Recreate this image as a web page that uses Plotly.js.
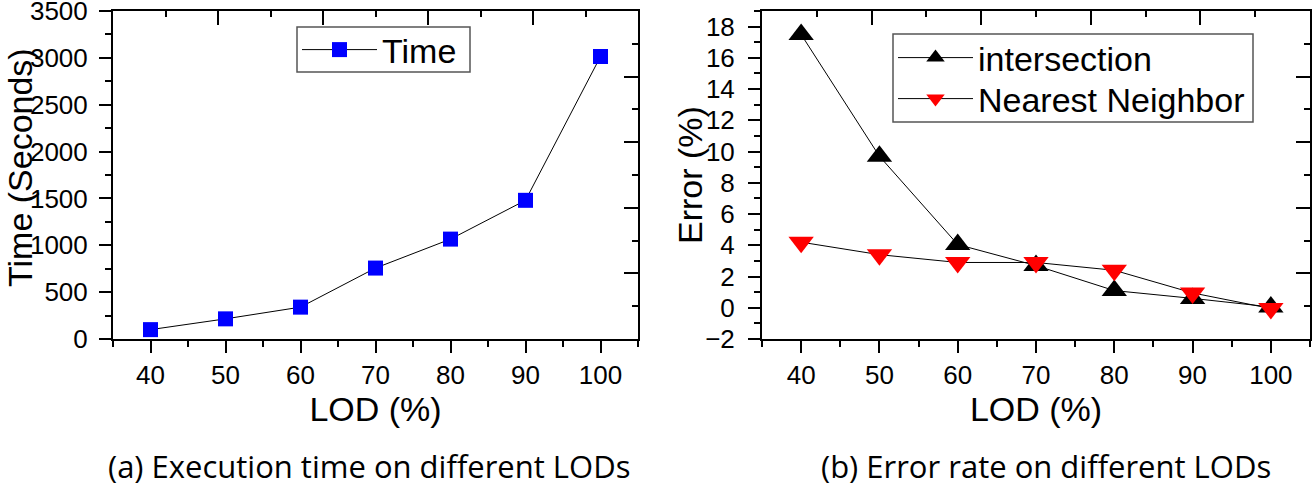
<!DOCTYPE html>
<html>
<head>
<meta charset="utf-8">
<script src="https://cdn.plot.ly/plotly-3.0.1.min.js"></script>
<style>html,body{margin:0;padding:0;background:#fff}#chart{width:1312px;height:488px}</style>
</head>
<body>
<div id="chart"></div>
<script>
// ---- data ----
const lod = [40, 50, 60, 70, 80, 90, 100];
const timeSeconds = [100, 215, 340, 757, 1066, 1480, 3015];
const errIntersection = [17.5, 9.7, 4.05, 2.7, 1.1, 0.6, 0.05];
const errNearest = [4.2, 3.4, 2.9, 2.9, 2.4, 0.95, -0.05];
const seriesNames = ['Time', 'intersection', 'Nearest Neighbor'];
const axisTitles = ['LOD (%)', 'Time (Seconds)', 'Error (%)'];
const captions = ['(a) Execution time on different LODs', '(b) Error rate on different LODs'];

const SANS = "'Liberation Sans', Arial, sans-serif";
const tickFont = {family: SANS, size: 26, color: '#000'};
const titleFont = {family: SANS, size: 34, color: '#000'};
const legendFont = {family: SANS, size: 34, color: '#000'};
const capFont = {family: "'Open Sans', 'Noto Sans', sans-serif", size: 31, color: '#000'};

const traces = [
  {x: lod, y: timeSeconds, name: seriesNames[0], type: 'scatter', mode: 'lines+markers',
   xaxis: 'x', yaxis: 'y', legend: 'legend',
   line: {color: '#000', width: 1}, marker: {symbol: 'square', size: 15, color: '#0000ff'}},
  {x: lod, y: errIntersection, name: seriesNames[1], type: 'scatter', mode: 'lines+markers',
   xaxis: 'x2', yaxis: 'y2', legend: 'legend2',
   line: {color: '#000', width: 1}, marker: {symbol: 'triangle-up', size: 22, color: '#000'}},
  {x: lod, y: errNearest, name: seriesNames[2], type: 'scatter', mode: 'lines+markers',
   xaxis: 'x2', yaxis: 'y2', legend: 'legend3',
   line: {color: '#000', width: 1}, marker: {symbol: 'triangle-down', size: 22, color: '#ff0000'}},
  // empty traces so the frame axes (top / right) get drawn
  {x: [], y: [], type: 'scatter', mode: 'markers', xaxis: 'x3', yaxis: 'y3', showlegend: false, hoverinfo: 'skip'},
  {x: [], y: [], type: 'scatter', mode: 'markers', xaxis: 'x4', yaxis: 'y4', showlegend: false, hoverinfo: 'skip'}
];

const baseAxis = {
  showline: true, linewidth: 2, linecolor: '#000', showgrid: false, zeroline: false,
  ticks: 'outside', ticklen: 12, tickwidth: 2, tickcolor: '#000', tickfont: tickFont,
  ticklabeloverflow: 'allow', fixedrange: true
};
const mirrorAxis = {
  showline: true, linewidth: 2, linecolor: '#000', showgrid: false, zeroline: false,
  showticklabels: false, ticks: 'inside', ticklen: 14, tickwidth: 2, tickcolor: '#000',
  range: [0, 10], tickmode: 'array', tickvals: [2, 4, 6, 8],
  minor: {tickmode: 'array', tickvals: [1, 3, 5, 7, 9], ticks: 'inside', ticklen: 6, tickwidth: 2, tickcolor: '#000'},
  fixedrange: true
};
const minorX = {tickmode: 'linear', tick0: 35, dtick: 5, ticks: 'outside', ticklen: 6, tickwidth: 2, tickcolor: '#000'};

const dL = [113 / 1312, 638 / 1312];
const dR = [762 / 1312, 1310 / 1312];
const dY = [(488 - 339) / 488, (488 - 11) / 488];
const px = v => v / 1312, py = v => (488 - v) / 488;

const legendBase = {xanchor: 'left', yanchor: 'middle', itemwidth: 75, bgcolor: 'rgba(0,0,0,0)',
  borderwidth: 0, font: legendFont, tracegroupgap: 0};

const layout = {
  width: 1312, height: 488,
  margin: {l: 0, r: 0, t: 0, b: 0},
  paper_bgcolor: '#fff', plot_bgcolor: '#fff',
  showlegend: true,
  xaxis: Object.assign({}, baseAxis, {domain: dL, anchor: 'y', range: [35, 105], tickmode: 'linear', tick0: 40, dtick: 10,
    minor: minorX, title: {text: axisTitles[0], font: titleFont, standoff: 4}}),
  yaxis: Object.assign({}, baseAxis, {domain: dY, anchor: 'x', range: [0, 3500.5], tickmode: 'linear', tick0: 0, dtick: 500,
    ticklabelstandoff: 6,
    minor: {tickmode: 'linear', tick0: 0, dtick: 250, ticks: 'outside', ticklen: 6, tickwidth: 2, tickcolor: '#000'}}),
  xaxis2: Object.assign({}, baseAxis, {domain: dR, anchor: 'y2', range: [35, 105], tickmode: 'linear', tick0: 40, dtick: 10,
    minor: minorX, title: {text: axisTitles[0], font: titleFont, standoff: 4}}),
  yaxis2: Object.assign({}, baseAxis, {domain: dY, anchor: 'x2', range: [-2, 19], tickmode: 'linear', tick0: -2, dtick: 2,
    ticklabelstandoff: 8,
    minor: {tickmode: 'linear', tick0: -2, dtick: 1, ticks: 'outside', ticklen: 6, tickwidth: 2, tickcolor: '#000'}}),
  xaxis3: Object.assign({}, mirrorAxis, {overlaying: 'x', side: 'top', anchor: 'y'}),
  yaxis3: Object.assign({}, mirrorAxis, {overlaying: 'y', side: 'right', anchor: 'x'}),
  xaxis4: Object.assign({}, mirrorAxis, {overlaying: 'x2', side: 'top', anchor: 'y2'}),
  yaxis4: Object.assign({}, mirrorAxis, {overlaying: 'y2', side: 'right', anchor: 'x2'}),
  legend: Object.assign({}, legendBase, {x: px(297), y: py(50)}),
  legend2: Object.assign({}, legendBase, {x: px(893), y: py(58)}),
  legend3: Object.assign({}, legendBase, {x: px(893), y: py(99)}),
  shapes: [
    {type: 'rect', xref: 'paper', yref: 'paper', x0: px(297), x1: px(470), y0: py(72), y1: py(27),
     line: {color: '#555', width: 1.5}, fillcolor: 'rgba(0,0,0,0)', layer: 'above'},
    {type: 'rect', xref: 'paper', yref: 'paper', x0: px(893), x1: px(1253), y0: py(122), y1: py(34),
     line: {color: '#555', width: 1.5}, fillcolor: 'rgba(0,0,0,0)', layer: 'above'}
  ],
  annotations: [
    {text: axisTitles[1], xref: 'paper', yref: 'paper', x: px(20), y: py(168), textangle: -90,
     xanchor: 'center', yanchor: 'middle', showarrow: false, font: titleFont},
    {text: axisTitles[2], xref: 'paper', yref: 'paper', x: px(690), y: py(175), textangle: -90,
     xanchor: 'center', yanchor: 'middle', showarrow: false, font: titleFont},
    {text: captions[0], xref: 'paper', yref: 'paper', x: px(369), y: py(466),
     xanchor: 'center', yanchor: 'middle', showarrow: false, font: capFont},
    {text: captions[1], xref: 'paper', yref: 'paper', x: px(1046), y: py(466),
     xanchor: 'center', yanchor: 'middle', showarrow: false, font: capFont}
  ]
};

Plotly.newPlot('chart', traces, layout, {displayModeBar: false, responsive: false, staticPlot: true});
</script>
</body>
</html>
